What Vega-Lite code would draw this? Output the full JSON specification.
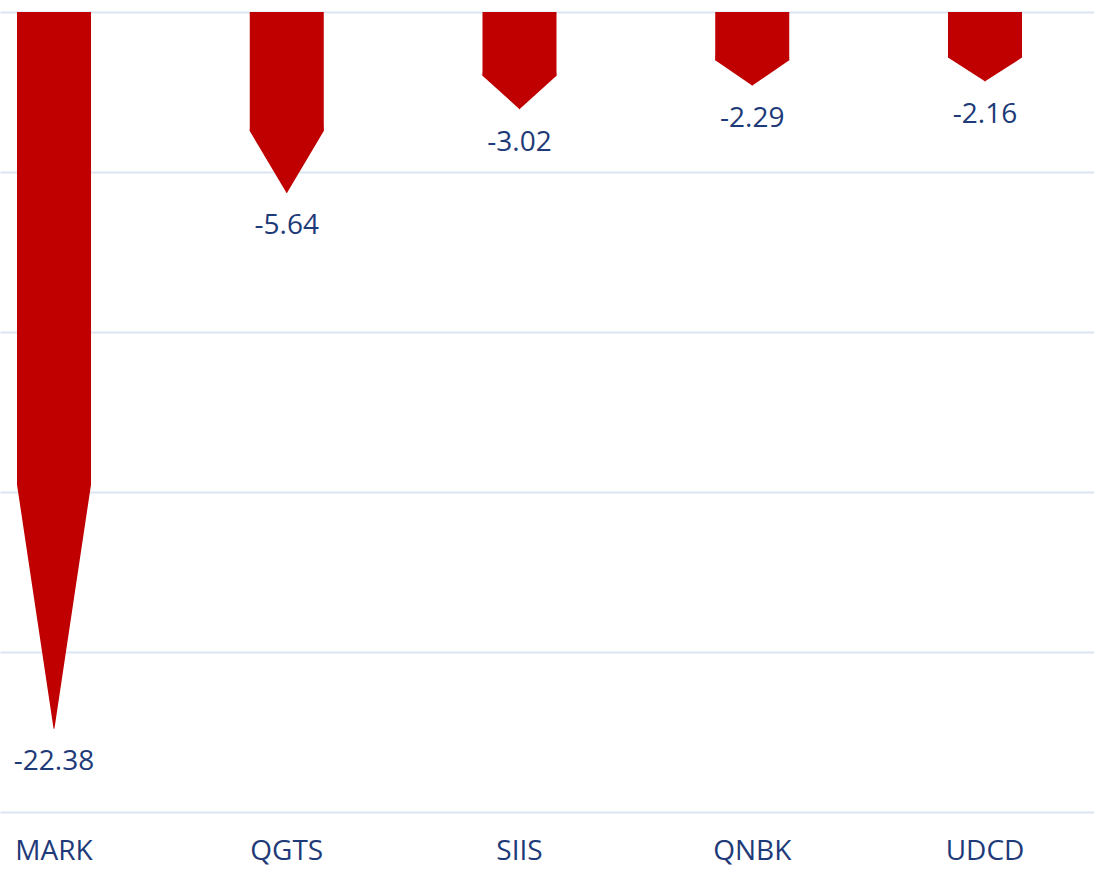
{
  "$schema": "https://vega.github.io/schema/vega-lite/v6.json",
  "width": 1094,
  "height": 800,
  "autosize": "none",
  "padding": {"top": 12, "left": 0, "right": 0, "bottom": 57},
  "background": "white",
  "config": {"view": {"stroke": null}},
  "data": {
    "values": [
      {"ticker": "MARK", "value": -22.38},
      {"ticker": "QGTS", "value": -5.64},
      {"ticker": "SIIS", "value": -3.02},
      {"ticker": "QNBK", "value": -2.29},
      {"ticker": "UDCD", "value": -2.16}
    ]
  },
  "transform": [{"calculate": "datum.value * 0.66", "as": "neck"}],
  "encoding": {
    "x": {
      "field": "ticker",
      "type": "nominal",
      "sort": null,
      "scale": {"type": "band", "paddingInner": 0.682, "paddingOuter": 0.1912, "align": 0.191, "round": false},
      "axis": {
        "orient": "bottom",
        "title": null,
        "domain": false,
        "ticks": false,
        "grid": false,
        "labelAngle": 0,
        "labelFont": "Open Sans",
        "labelFontSize": 28,
        "labelColor": "#1E3A78",
        "labelBaseline": "alphabetic",
        "labelPadding": 47
      }
    }
  },
  "layer": [
    {
      "mark": {"type": "bar", "color": "#C00000"},
      "encoding": {
        "y": {
          "field": "neck",
          "type": "quantitative",
          "scale": {"domain": [-25, 0], "nice": false},
          "axis": {
            "title": null,
            "labels": false,
            "ticks": false,
            "domain": false,
            "grid": true,
            "values": [-25, -20, -15, -10, -5, 0],
            "gridColor": "#DCE6F2",
            "gridWidth": 2
          }
        },
        "y2": {"datum": 0}
      }
    },
    {
      "transform": [{"fold": ["neck", "value"], "as": ["part", "yv"]}],
      "mark": {"type": "trail", "color": "#C00000"},
      "encoding": {
        "y": {"field": "yv", "type": "quantitative"},
        "size": {
          "field": "part",
          "type": "ordinal",
          "scale": {"domain": ["neck", "value"], "range": [74, 0]},
          "legend": null
        },
        "detail": {"field": "ticker"},
        "order": {"field": "part", "sort": "ascending"}
      }
    },
    {
      "mark": {
        "type": "text",
        "font": "Open Sans",
        "fontSize": 28,
        "color": "#1E3A78",
        "baseline": "alphabetic",
        "dy": 42
      },
      "encoding": {
        "y": {"field": "value", "type": "quantitative"},
        "text": {"field": "value", "type": "nominal"}
      }
    },
    {
      "mark": {"type": "rule", "color": "#D9D9D9", "strokeWidth": 2},
      "encoding": {"y": {"datum": 0}}
    }
  ]
}
